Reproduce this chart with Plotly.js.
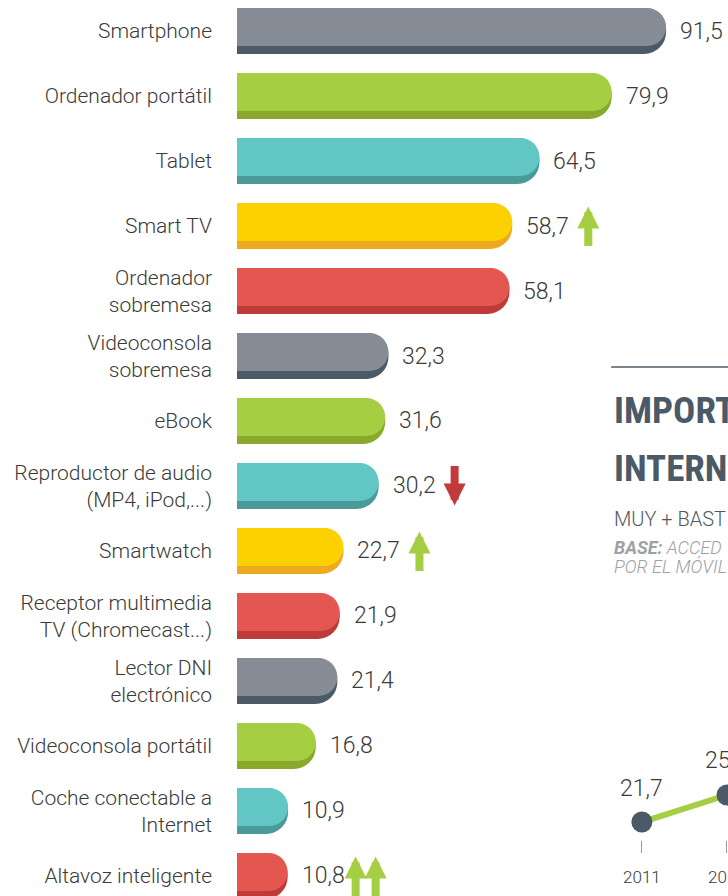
<!DOCTYPE html>
<html>
<head>
<meta charset="utf-8">
<script src="https://cdn.plot.ly/plotly-3.0.1.min.js"></script>
<style>
  html, body { margin: 0; padding: 0; background: #ffffff; }
  #chart { width: 728px; height: 896px; }
  g.annotation[data-index="0"] text, g.annotation[data-index="1"] text { font-stretch: 75%; }
</style>
</head>
<body>
<div id="chart"></div>
<script>
// ---- data ----
var categories = [
  "Smartphone",
  "Ordenador portátil",
  "Tablet",
  "Smart TV",
  "Ordenador<br>sobremesa",
  "Videoconsola<br>sobremesa",
  "eBook",
  "Reproductor de audio<br>(MP4, iPod,...)",
  "Smartwatch",
  "Receptor multimedia<br>TV (Chromecast...)",
  "Lector DNI<br>electrónico",
  "Videoconsola portátil",
  "Coche conectable a<br>Internet",
  "Altavoz inteligente"
];
var values = [91.5, 79.9, 64.5, 58.7, 58.1, 32.3, 31.6, 30.2, 22.7, 21.9, 21.4, 16.8, 10.9, 10.8];
var valueLabels = ["91,5", "79,9", "64,5", "58,7", "58,1", "32,3", "31,6", "30,2", "22,7", "21,9", "21,4", "16,8", "10,9", "10,8"];
var colorKeys = ["gray", "green", "teal", "yellow", "red", "gray", "green", "teal", "yellow", "red", "gray", "green", "teal", "red"];
// trend arrows: category, direction (+1 up, -1 down), count
var trendCategories = ["Smart TV", "Reproductor de audio<br>(MP4, iPod,...)", "Smartwatch", "Altavoz inteligente"];
var trendDirections = [1, -1, 1, 1];
var trendCounts = [1, 1, 1, 2];

// partial line chart (right panel)
var years = [2011, 2012];
var yearLabels = ["2011", "2012"];
var lineValues = [21.7, 25.3];
var lineLabels = ["21,7", "25,3"];

// visible header texts of the right panel
var headerTitleLines = ["IMPORT", "INTERN"];
var headerSub = "MUY + BAST";
var headerBaseLines = ["<b>BASE:</b> ACCED", "POR EL MÓVIL"];

// ---- styles ----
var palette = { gray: "#858c95", green: "#a6ce43", teal: "#62c6c4", yellow: "#fdd001", red: "#e45650" };
var paletteDark = { gray: "#4b5a66", green: "#88a92b", teal: "#4a9a99", yellow: "#eeaa1f", red: "#be3b39" };
var barColors = colorKeys.map(function (k) { return palette[k]; });
var barDarkColors = colorKeys.map(function (k) { return paletteDark[k]; });

var FONT = "Roboto, Lato, sans-serif";
var TXT = "#3a3a3a";

var traces = [
  {
    type: "bar", orientation: "h",
    x: values, y: categories,
    width: 0.708, offset: -0.354,
    marker: { color: barDarkColors, cornerradius: 22, line: { width: 0 } },
    hoverinfo: "skip", showlegend: false
  },
  {
    type: "bar", orientation: "h",
    x: values, y: categories,
    width: 0.585, offset: -0.354,
    marker: { color: barColors, cornerradius: 19, line: { width: 0 } },
    hoverinfo: "skip", showlegend: false
  },
  {
    type: "scatter", mode: "lines+markers",
    x: years, y: lineValues,
    xaxis: "x2", yaxis: "y2",
    line: { color: "#a6ce43", width: 6 },
    marker: { color: "#4b5a66", size: 21 },
    cliponaxis: false,
    hoverinfo: "skip", showlegend: false
  }
];

var annotations = [];
// right panel header texts (title lines first: index 0, 1)
var titleY = [0.5413, 0.4766];
headerTitleLines.forEach(function (t, i) {
  annotations.push({
    xref: "paper", yref: "paper", x: 0.764, y: titleY[i],
    xanchor: "left", yanchor: "middle", align: "left", showarrow: false,
    text: t,
    font: { family: "Roboto, sans-serif", size: 37, weight: 700, color: "#4b5a66" }
  });
});
annotations.push({
  xref: "paper", yref: "paper", x: 0.764, y: 0.4208,
  xanchor: "left", yanchor: "middle", align: "left", showarrow: false,
  text: headerSub,
  font: { family: FONT, size: 20, weight: 300, color: "#4f5961" }
});
var baseY = [0.3884, 0.3672];
headerBaseLines.forEach(function (t, i) {
  annotations.push({
    xref: "paper", yref: "paper", x: 0.764, y: baseY[i],
    xanchor: "left", yanchor: "middle", align: "left", showarrow: false,
    text: t,
    font: { family: FONT, size: 18, weight: 300, color: "#9ca1a6", style: "italic" }
  });
});

values.forEach(function (v, i) {
  annotations.push({
    x: v, y: categories[i], xref: "x", yref: "y",
    text: valueLabels[i], showarrow: false,
    xanchor: "left", yanchor: "middle", xshift: 12,
    font: { family: FONT, size: 23, weight: 300, color: TXT }
  });
});
// arrows: the annotation text end sits at the arrow tip, the anchor point at the tail
trendCategories.forEach(function (c, k) {
  var idx = categories.indexOf(c);
  var v = values[idx];
  var dir = trendDirections[k];
  for (var j = 0; j < trendCounts[k]; j++) {
    var shift = trendCounts[k] === 1 ? 76 : 68 + j * 20;
    annotations.push({
      x: v, y: c, xref: "x", yref: "y",
      text: "", showarrow: true, borderpad: 0,
      font: { size: 1 },
      arrowside: "start",
      startarrowhead: 2, startarrowsize: 0.55, arrowwidth: 8,
      arrowcolor: dir > 0 ? "#a6ce43" : "#c23b3a",
      ax: 0, ay: dir > 0 ? -40 : 40,
      xshift: shift, yshift: dir > 0 ? -20 : 20
    });
  }
});
years.forEach(function (yr, i) {
  annotations.push({
    x: yr, y: lineValues[i], xref: "x2", yref: "y2",
    text: lineLabels[i], showarrow: false,
    xanchor: "center", yanchor: "middle", yshift: 34,
    font: { family: FONT, size: 23, weight: 300, color: TXT }
  });
});

var layout = {
  width: 728, height: 896,
  margin: { l: 237, r: 0, t: 0, b: 0, pad: 0 },
  paper_bgcolor: "#ffffff",
  plot_bgcolor: "rgba(0,0,0,0)",
  barmode: "overlay",
  font: { family: FONT, color: TXT },
  xaxis: { range: [0, 104.7], visible: false, fixedrange: true },
  yaxis: {
    type: "category", range: [13.308, -0.477],
    showgrid: false, zeroline: false, showline: false, ticks: "",
    ticklabelstandoff: 24,
    tickfont: { family: FONT, size: 21, weight: 300, color: TXT },
    fixedrange: true
  },
  xaxis2: {
    domain: [0.739, 1], range: [2010.506, 2012.012], anchor: "y2",
    tickvals: years, ticktext: yearLabels,
    showgrid: false, zeroline: false, showline: false,
    ticks: "outside", ticklen: 12, tickwidth: 1, tickcolor: "#9a9a9a",
    ticklabelstandoff: 10, ticklabeloverflow: "allow",
    tickfont: { family: FONT, size: 17, weight: 300, color: TXT },
    fixedrange: true
  },
  yaxis2: {
    domain: [0.0625, 0.25], range: [19.31, 41.67], anchor: "x2",
    visible: false, fixedrange: true
  },
  shapes: [{
    type: "line", xref: "paper", yref: "paper",
    x0: 0.762, x1: 1.0, y0: 0.5904, y1: 0.5904,
    line: { color: "#4b5a66", width: 1.5 }
  }],
  annotations: annotations
};

Plotly.newPlot("chart", traces, layout, { displayModeBar: false, staticPlot: true });
</script>
</body>
</html>
